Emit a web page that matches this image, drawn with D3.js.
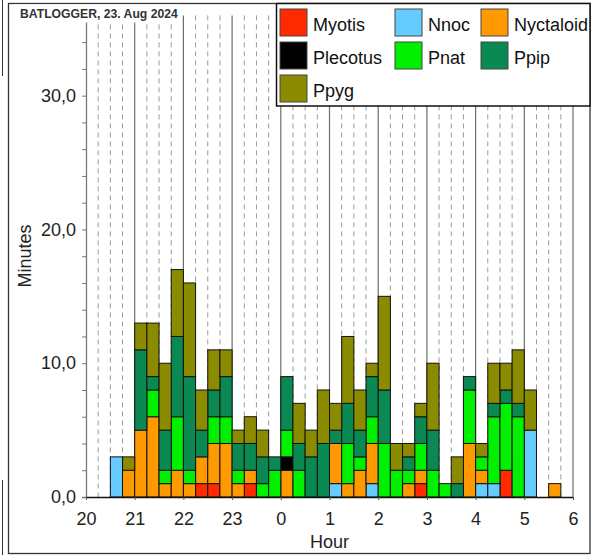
<!DOCTYPE html>
<html>
<head>
<meta charset="utf-8">
<script src="https://cdn.jsdelivr.net/npm/d3@7"></script>
<style>
  html, body { margin: 0; padding: 0; background: #fff; }
  svg { display: block; font-family: "Liberation Sans", Arial, Helvetica, sans-serif; }
</style>
</head>
<body>
<svg id="chart" width="594" height="555"></svg>
<script>
// 15-minute bins from 20:00 to 06:00 (hour offsets from 20)
const binStarts = d3.range(40).map(i => 20 + i * 0.25);
const species = ["Myotis", "Nnoc", "Nyctaloid", "Plecotus", "Pnat", "Ppip", "Ppyg"];
const colors  = ["#ff2a00", "#66ccff", "#ff9900", "#000000", "#00f000", "#0a8a52", "#8b8b00"];

const Myotis    = [0,0,0,0,0,0,0,0,0,1, 1,0,0,1,0,0,0,0,0,0, 0,0,0,0,0,0,0,1,0,0, 0,0,0,0,2,0,0,0,0,0];
const Nnoc      = [0,0,3,0,0,0,0,0,0,0, 0,0,0,0,0,0,0,0,0,0, 1,0,0,1,0,0,0,0,0,0, 0,0,1,1,0,0,5,0,0,0];
const Nyctaloid = [0,0,0,2,5,6,1,2,1,2, 3,4,1,1,0,0,2,0,0,0, 3,1,2,3,0,0,1,1,0,0, 0,4,1,0,0,0,0,0,1,0];
const Plecotus  = [0,0,0,0,0,0,0,0,0,0, 0,0,0,0,0,0,1,0,0,0, 0,0,0,0,0,0,0,0,0,0, 0,0,0,0,0,0,0,0,0,0];
const Pnat      = [0,0,0,0,0,2,1,4,1,0, 2,2,1,0,1,2,2,2,0,0, 0,3,1,2,4,2,1,2,2,1, 0,4,1,5,5,6,0,0,0,0];
const Ppip      = [0,0,0,0,6,1,3,6,7,2, 2,3,2,2,2,1,4,2,3,4, 1,3,2,3,4,0,1,2,3,0, 1,1,0,1,1,1,0,0,0,0];
const Ppyg      = [0,0,0,1,2,4,5,5,7,3, 3,2,1,2,2,0,0,3,2,4, 2,5,3,1,7,2,1,1,5,0, 2,0,1,3,2,4,3,0,0,0];

const hourTicks = d3.range(20, 31);
const minuteTicks = d3.range(0, 37, 2);

const seriesValues = [Myotis, Nnoc, Nyctaloid, Plecotus, Pnat, Ppip, Ppyg];
const table = binStarts.map((h, i) => {
  const row = { h };
  species.forEach((s, k) => row[s] = seriesValues[k][i]);
  return row;
});

const svg = d3.select("#chart");
const x = d3.scaleLinear().domain([20, 30]).range([86, 573]);
const y = d3.scaleLinear().domain([0, 36]).range([497, 15.4]);
const color = d3.scaleOrdinal().domain(species).range(colors);

// screenshot frame
svg.append("rect").attr("x", 8.5).attr("y", 3.5).attr("width", 581.5).attr("height", 550)
  .attr("fill", "none").attr("stroke", "#333").attr("stroke-width", 1.3);
svg.append("line").attr("x1", 2.5).attr("x2", 2.5).attr("y1", 0).attr("y2", 76).attr("stroke", "#333");
svg.append("line").attr("x1", 2.5).attr("x2", 2.5).attr("y1", 480).attr("y2", 555).attr("stroke", "#333");

// vertical grid
const quarter = d3.range(20, 30.01, 0.25).filter(v => Math.abs(v - Math.round(v)) > 1e-6);
svg.append("g").selectAll("line").data(quarter).join("line")
  .attr("x1", d => x(d)).attr("x2", d => x(d))
  .attr("y1", y(36)).attr("y2", y(0))
  .attr("stroke", "#9a9a9a").attr("stroke-width", 1).attr("stroke-dasharray", "5,4");
svg.append("g").selectAll("line").data(hourTicks.slice(1)).join("line")
  .attr("x1", d => x(d)).attr("x2", d => x(d))
  .attr("y1", y(36)).attr("y2", y(0))
  .attr("stroke", "#6e6e6e").attr("stroke-width", 1.2);

// bars
const stacked = d3.stack().keys(species)(table);
svg.append("g").selectAll("g").data(stacked).join("g")
  .attr("fill", d => color(d.key))
  .selectAll("rect").data(d => d.filter(p => p[1] > p[0])).join("rect")
  .attr("x", d => x(d.data.h))
  .attr("width", d => x(d.data.h + 0.25) - x(d.data.h))
  .attr("y", d => y(d[1]))
  .attr("height", d => y(d[0]) - y(d[1]))
  .attr("stroke", "#111").attr("stroke-width", 1);

// y axis
const yAxis = svg.append("g").attr("transform", `translate(${x(20)},0)`)
  .call(d3.axisLeft(y).tickValues(minuteTicks).tickSize(4).tickPadding(6)
    .tickFormat(d => d % 10 === 0 ? d.toFixed(1).replace(".", ",") : ""));
yAxis.select(".domain").attr("stroke", "#777").attr("stroke-width", 1.3);
yAxis.selectAll(".tick line").attr("stroke", "#777").attr("x2", -4).attr("x1", 1);
yAxis.selectAll(".tick text").attr("font-size", 18).attr("fill", "#222")
  .attr("font-family", "Liberation Sans, Arial, sans-serif");

// x axis
const xAxis = svg.append("g").attr("transform", `translate(0,${y(0)})`)
  .call(d3.axisBottom(x).tickValues(hourTicks).tickSize(3).tickSizeOuter(0).tickPadding(12)
    .tickFormat(d => String(d % 24)));
xAxis.select(".domain").attr("stroke", "#111").attr("stroke-width", 1.5);
xAxis.selectAll(".tick line").attr("stroke", "#555");
xAxis.selectAll(".tick text").attr("font-size", 18).attr("fill", "#222")
  .attr("font-family", "Liberation Sans, Arial, sans-serif");

// axis titles
svg.append("text").attr("x", (x(20) + x(30)) / 2).attr("y", 548)
  .attr("text-anchor", "middle").attr("font-size", 18).attr("fill", "#222").text("Hour");
svg.append("text").attr("transform", "translate(31,256) rotate(-90)")
  .attr("text-anchor", "middle").attr("font-size", 18).attr("fill", "#222").text("Minutes");

// chart title
svg.append("rect").attr("x", 14).attr("y", 4.5).attr("width", 166).attr("height", 18).attr("fill", "#fff");
svg.append("text").attr("x", 20).attr("y", 18).attr("font-size", 12.2).attr("font-weight", "bold")
  .attr("fill", "#333").text("BATLOGGER, 23. Aug 2024");

// legend
const lg = svg.append("g");
lg.append("rect").attr("x", 276.5).attr("y", 3.5).attr("width", 313.5).attr("height", 102.5)
  .attr("fill", "#fff").attr("stroke", "#111").attr("stroke-width", 1.5);
const colX = [280, 395, 481];
const items = lg.selectAll("g.item").data(species).join("g").attr("class", "item")
  .attr("transform", (d, i) => `translate(${colX[i % 3]},${9 + Math.floor(i / 3) * 33})`);
items.append("rect").attr("width", 27).attr("height", 27)
  .attr("fill", d => color(d)).attr("stroke", "#444").attr("stroke-width", 1);
items.append("text").attr("x", 33).attr("y", 22).attr("font-size", 18).attr("fill", "#111")
  .text(d => d);
</script>
</body>
</html>
